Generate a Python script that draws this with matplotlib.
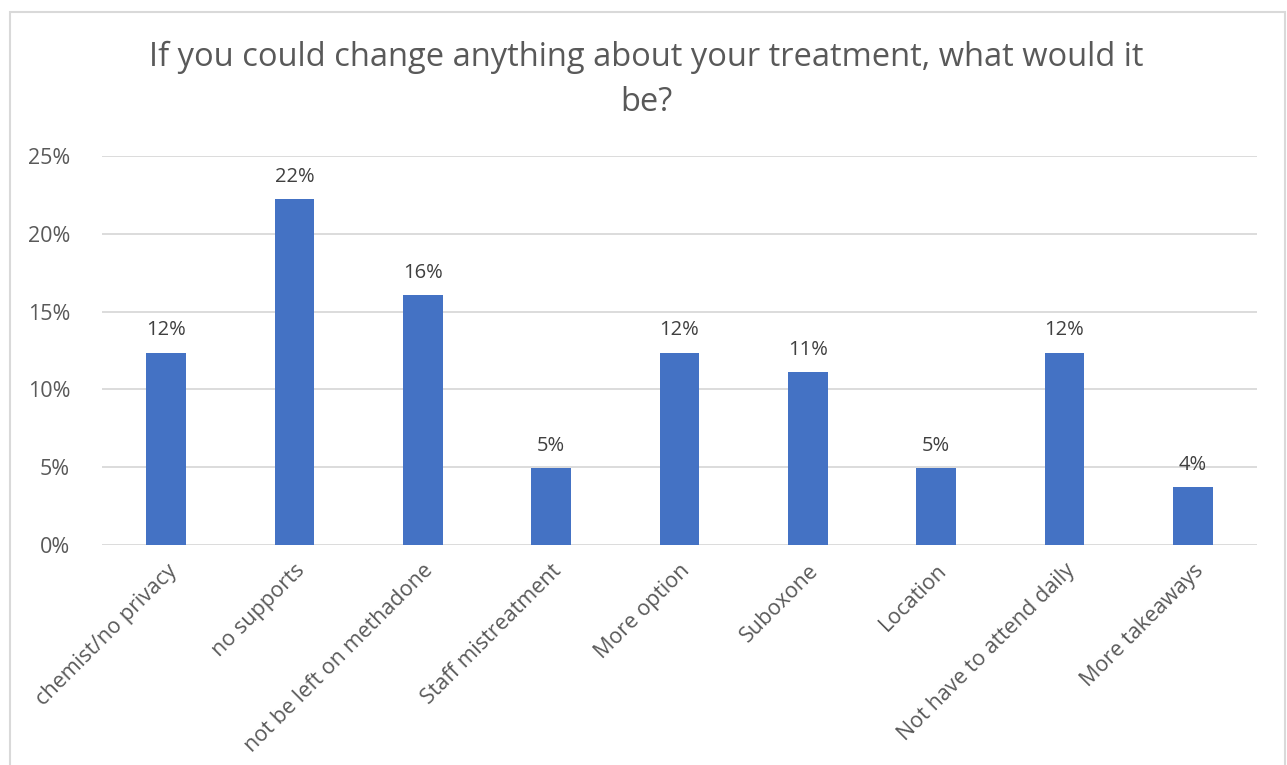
import matplotlib.pyplot as plt
from matplotlib.patches import Rectangle
from matplotlib.ticker import PercentFormatter

plt.rcParams['font.family'] = ['Open Sans', 'DejaVu Sans']

categories = ["chemist/no privacy", "no supports", "not be left on methadone",
              "Staff mistreatment", "More option", "Suboxone", "Location",
              "Not have to attend daily", "More takeaways"]
values = [12.35, 22.22, 16.05, 4.94, 12.35, 11.11, 4.94, 12.35, 3.70]
labels = ["12%", "22%", "16%", "5%", "12%", "11%", "5%", "12%", "4%"]

TEXT = '#595959'
GRID = '#d9d9d9'
BAR = '#4472C4'

fig = plt.figure(figsize=(12.87, 7.65), dpi=100)
ax = fig.add_axes([102/1287, 1 - 545/765, 1155/1287, 389/765])

# chart border
fig.patches.append(Rectangle((10/1287, -0.05), 1275/1287, 1 - 12/765 + 0.05,
                             transform=fig.transFigure, fill=False,
                             edgecolor=GRID, linewidth=1.5))

x = range(len(categories))
bars = ax.bar(x, values, width=0.31, color=BAR, zorder=3)

for b, lab in zip(bars, labels):
    ax.annotate(lab, (b.get_x() + b.get_width() / 2, b.get_height()),
                xytext=(0, 9), textcoords='offset points',
                ha='center', va='bottom', fontsize=14.5, color='#404040')

ax.set_xlim(-0.5, len(categories) - 0.5)
ax.set_ylim(0, 25)
ax.set_yticks([0, 5, 10, 15, 20, 25])
ax.yaxis.set_major_formatter(PercentFormatter(decimals=0))
ax.grid(axis='y', color=GRID, linewidth=1.3, zorder=0)
ax.set_xticks(list(x))
ax.set_xticklabels(categories, rotation=45, ha='right', rotation_mode='anchor')
ax.tick_params(axis='both', length=0, labelsize=15.5, labelcolor=TEXT)
ax.tick_params(axis='x', pad=11)
ax.tick_params(axis='y', pad=23)
for s in ax.spines.values():
    s.set_visible(False)

fig.text(0.5025, 1 - 80/765,
         "If you could change anything about your treatment, what would it\nbe?",
         ha='center', va='center', fontsize=23.5, color=TEXT, linespacing=1.45)

fig.savefig('out.png', dpi=100)
